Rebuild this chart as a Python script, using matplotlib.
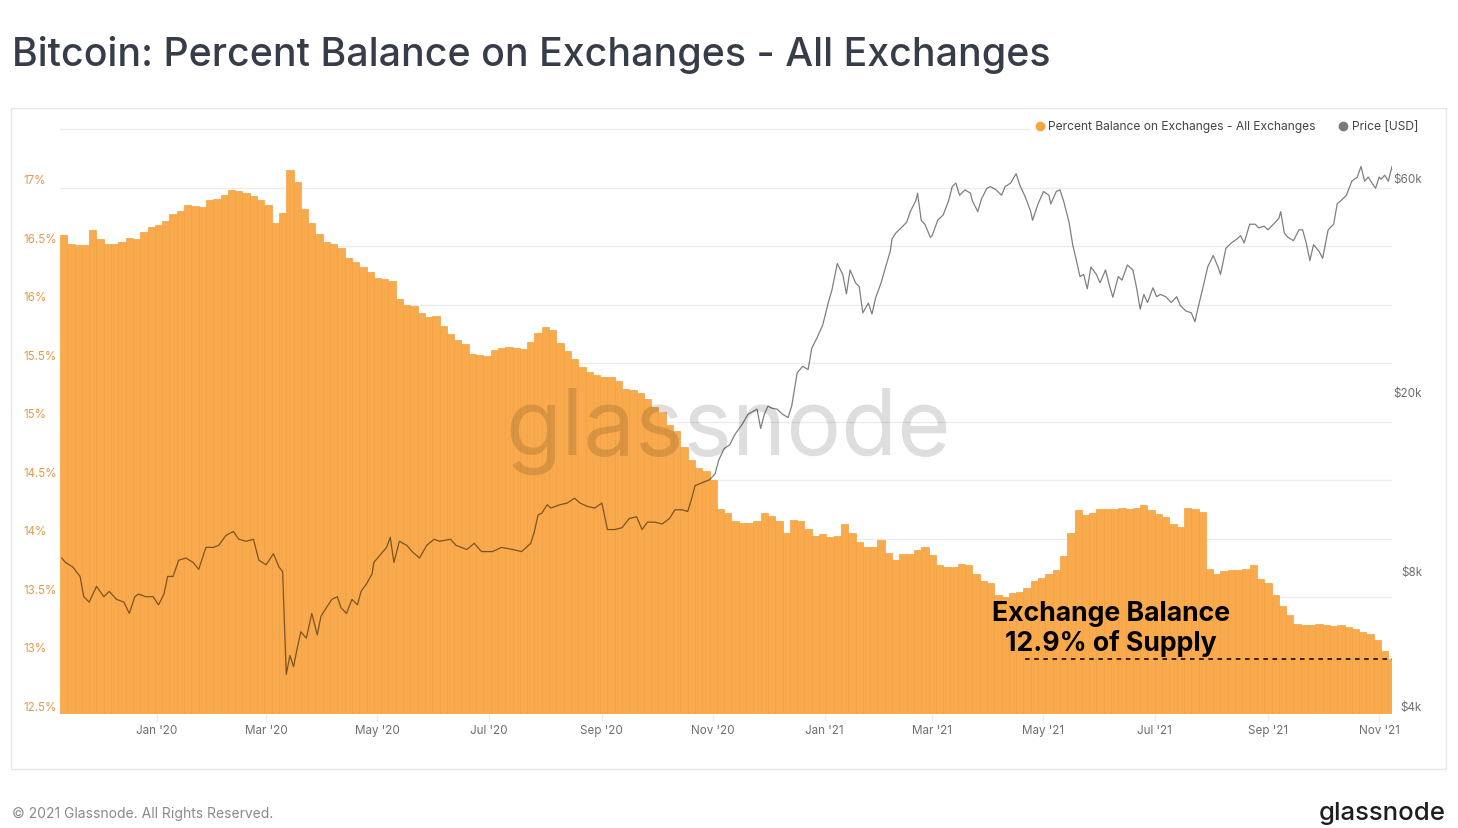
import matplotlib
matplotlib.use("Agg")
import matplotlib.pyplot as plt
import matplotlib.dates as mdates
import matplotlib.transforms as mtransforms
from matplotlib.patches import Rectangle
from matplotlib.lines import Line2D
import numpy as np
import pandas as pd

# ---------------- data ----------------
start_date = "2019-11-09"
bar_step_days = 4
balance_pct = [
    16.59, 16.52, 16.51, 16.51, 16.64, 16.56, 16.52, 16.52, 16.53, 16.57,
    16.56, 16.62, 16.66, 16.68, 16.71, 16.77, 16.80, 16.85, 16.84, 16.83,
    16.89, 16.90, 16.94, 16.98, 16.97, 16.95, 16.93, 16.89, 16.85, 16.70,
    16.78, 17.15, 17.05, 16.82, 16.70, 16.60, 16.53, 16.52, 16.48, 16.40,
    16.36, 16.32, 16.28, 16.23, 16.22, 16.20, 16.05, 16.00, 15.99, 15.93,
    15.89, 15.90, 15.82, 15.75, 15.70, 15.66, 15.58, 15.57, 15.56, 15.61,
    15.63, 15.64, 15.63, 15.62, 15.68, 15.76, 15.81, 15.78, 15.67, 15.60,
    15.53, 15.47, 15.42, 15.40, 15.38, 15.38, 15.35, 15.28, 15.27, 15.24,
    15.19, 15.12, 15.08, 14.97, 14.92, 14.78, 14.67, 14.60, 14.58, 14.50,
    14.25, 14.22, 14.15, 14.13, 14.13, 14.15, 14.22, 14.19, 14.15, 14.05,
    14.16, 14.15, 14.08, 14.02, 14.04, 14.01, 14.02, 14.12, 14.05, 13.97,
    13.93, 13.93, 13.99, 13.88, 13.82, 13.87, 13.87, 13.90, 13.93, 13.86,
    13.77, 13.76, 13.76, 13.78, 13.77, 13.70, 13.64, 13.62, 13.52, 13.50,
    13.53, 13.54, 13.58, 13.64, 13.66, 13.70, 13.73, 13.85, 14.05, 14.24,
    14.20, 14.22, 14.25, 14.25, 14.25, 14.26, 14.25, 14.26, 14.29, 14.24,
    14.21, 14.18, 14.12, 14.10, 14.26, 14.25, 14.23, 13.74, 13.70, 13.72,
    13.73, 13.73, 13.74, 13.77, 13.65, 13.62, 13.52, 13.42, 13.35, 13.27,
    13.26, 13.26, 13.27, 13.26, 13.25, 13.26, 13.24, 13.23, 13.20, 13.18,
    13.13, 13.04, 12.97,
]

price_day = [
    1, 3, 7, 11, 13, 16, 20, 24, 27, 31, 35, 38, 41, 43, 47, 51, 54, 57, 59, 62,
    65, 69, 73, 76, 80, 84, 87, 91, 95, 98, 102, 106, 109, 113, 117, 120, 122, 124, 126, 128,
    130, 132, 135, 138, 141, 143, 146, 149, 152, 154, 157, 160, 163, 165, 168, 171, 172, 175, 179, 181,
    183, 186, 190, 193, 197, 201, 205, 208, 214, 217, 223, 227, 231, 237, 242, 248, 253, 258, 260, 262,
    264, 267, 269, 274, 278, 282, 285, 289, 293, 297, 300, 304, 308, 312, 316, 319, 322, 326, 330, 334,
    337, 341, 344, 346, 348, 352, 356, 359, 361, 364, 367, 370, 374, 377, 380, 382, 384, 386, 388, 390,
    393, 396, 399, 401, 404, 407, 410, 412, 415, 418, 421, 423, 426, 429, 431, 433, 436, 438, 440, 443,
    445, 447, 450, 452, 455, 456, 458, 461, 464, 466, 469, 470, 472, 474, 477, 478, 481, 484, 487, 489,
    491, 493, 496, 499, 500, 503, 505, 508, 510, 513, 516, 518, 521, 524, 526, 529, 532, 533, 536, 539,
    542, 543, 546, 548, 550, 553, 555, 557, 559, 561, 563, 565, 568, 570, 573, 575, 577, 580, 582, 585,
    588, 590, 592, 594, 596, 599, 601, 603, 606, 609, 612, 614, 617, 620, 622, 624, 626, 629, 632, 635,
    636, 639, 642, 645, 647, 649, 652, 655, 657, 660, 662, 665, 668, 669, 671, 673, 676, 679, 681, 683,
    685, 687, 690, 692, 695, 698, 700, 702, 705, 708, 711, 713, 715, 717, 719, 721, 723, 724, 726, 728,
    730,
]
price_k = [
    8.9, 8.7, 8.5, 8.1, 7.3, 7.1, 7.7, 7.3, 7.5, 7.2, 7.1, 6.7, 7.3, 7.4, 7.3, 7.3, 7.0, 7.4, 8.1, 8.1,
    8.8, 8.9, 8.7, 8.4, 9.4, 9.4, 9.5, 10.0, 10.2, 9.8, 9.7, 9.8, 8.8, 8.6, 9.1, 8.5, 8.3, 4.9, 5.4, 5.1,
    5.6, 6.1, 5.9, 6.7, 6.0, 6.6, 6.9, 7.2, 7.3, 6.9, 6.7, 7.2, 7.0, 7.5, 7.8, 8.2, 8.7, 9.0, 9.4, 9.9,
    8.7, 9.7, 9.5, 9.2, 8.9, 9.5, 9.8, 9.7, 9.8, 9.5, 9.3, 9.6, 9.2, 9.2, 9.4, 9.3, 9.2, 9.6, 10.2, 11.1,
    11.2, 11.7, 11.5, 11.7, 11.8, 12.1, 11.8, 11.6, 11.5, 11.8, 10.3, 10.3, 10.4, 10.9, 11.0, 10.3, 10.7, 10.7, 10.6, 10.9,
    11.4, 11.4, 11.3, 12.0, 12.9, 13.1, 13.3, 13.7, 14.7, 15.6, 15.9, 16.8, 17.7, 18.6, 18.9, 19.1, 17.3, 18.6, 19.4, 19.2,
    19.1, 18.6, 18.3, 19.4, 23.0, 23.8, 23.4, 26.1, 27.6, 29.4, 32.9, 35.1, 40.3, 38.1, 34.5, 39.0, 36.5, 35.8, 31.3, 32.9,
    31.1, 33.8, 36.5, 39.0, 42.9, 45.7, 47.1, 48.4, 49.8, 52.6, 55.6, 57.8, 50.3, 49.3, 46.1, 46.5, 50.3, 51.7, 55.6, 59.8,
    60.9, 57.2, 58.8, 57.8, 55.6, 52.6, 56.1, 59.3, 59.8, 58.8, 57.2, 59.8, 60.9, 63.9, 60.3, 56.7, 52.6, 50.3, 54.7, 58.3,
    57.2, 54.7, 58.3, 58.8, 55.6, 49.8, 44.4, 41.0, 37.7, 38.1, 35.4, 39.6, 38.1, 36.5, 39.0, 36.2, 33.9, 37.7, 37.0, 40.0,
    39.0, 35.6, 31.9, 34.4, 33.0, 35.6, 34.0, 34.4, 34.0, 33.0, 34.0, 32.5, 31.6, 31.3, 29.9, 32.5, 35.1, 39.6, 42.0, 39.3,
    38.1, 43.6, 44.8, 45.7, 46.5, 44.8, 49.3, 49.3, 48.4, 48.8, 47.9, 49.3, 50.8, 52.6, 47.1, 46.1, 45.3, 47.9, 47.9, 44.8,
    40.9, 44.4, 42.9, 41.4, 47.9, 49.3, 54.8, 55.6, 57.2, 61.5, 62.8, 66.3, 61.5, 62.8, 60.9, 59.3, 62.8, 62.1, 63.4, 61.5,
    66.3,
]

pct_ticks = [12.5, 13, 13.5, 14, 14.5, 15, 15.5, 16, 16.5, 17]
pct_labels = ["12.5%", "13%", "13.5%", "14%", "14.5%", "15%", "15.5%", "16%", "16.5%", "17%"]
price_ticks = [4000, 8000, 20000, 60000]
price_labels = ["$4k", "$8k", "$20k", "$60k"]
month_ticks = ["2020-01-01", "2020-03-01", "2020-05-01", "2020-07-01", "2020-09-01", "2020-11-01",
               "2021-01-01", "2021-03-01", "2021-05-01", "2021-07-01", "2021-09-01", "2021-11-01"]
month_labels = ["Jan '20", "Mar '20", "May '20", "Jul '20", "Sep '20", "Nov '20",
                "Jan '21", "Mar '21", "May '21", "Jul '21", "Sep '21", "Nov '21"]
span_days = 730
annot_day = 576
annot_text = "Exchange Balance\n12.9% of Supply"
dash_start_day = 529

# ---------------- figure ----------------
plt.rcParams['font.family'] = ['Inter', 'DejaVu Sans']
W, H = 1458, 829
fig = plt.figure(figsize=(W / 100, H / 100), dpi=100)
fig.patch.set_facecolor('white')

def fx(px):
    return px / W

def fy(py):
    return 1 - py / H

ax_l, ax_r, ax_t, ax_b = 60, 1392, 128, 715
ax = fig.add_axes([fx(ax_l), fy(ax_b), fx(ax_r - ax_l), (ax_b - ax_t) / H])

t0 = pd.Timestamp(start_date)
bar_dates = [t0 + pd.Timedelta(days=bar_step_days * i) for i in range(len(balance_pct))]
bar_x = mdates.date2num(bar_dates)
base = 12.5
ax.bar(bar_x, np.array(balance_pct) - base, bottom=base, width=bar_step_days, align='edge',
       color='#F8AA4C', edgecolor='#F5A040', linewidth=0.5, zorder=2)

x0 = mdates.date2num(t0)
x1 = mdates.date2num(t0 + pd.Timedelta(days=span_days))
ax.set_xlim(x0, x1)
ax.set_ylim(12.5, 12.5 + (ax_b - ax_t) / 117.0)

# grid
ax.set_yticks(pct_ticks + [17.5])
ax.set_yticklabels([])
ax.tick_params(axis='y', length=0)
ax.grid(axis='y', color='#ececec', linewidth=1.0)
ax.set_axisbelow(True)
for s in ax.spines.values():
    s.set_visible(False)

# x ticks
ax.set_xticks(mdates.date2num(pd.to_datetime(month_ticks)))
ax.set_xticklabels(month_labels)
ax.tick_params(axis='x', length=5, color='#ececec', width=1, pad=2.5, labelsize=8.4,
               labelcolor='#6e6e6e')

# left labels (above grid lines)
ltrans = mtransforms.offset_copy(mtransforms.blended_transform_factory(ax.transAxes, ax.transData),
                                 fig=fig, x=0, y=7, units='dots')
for v, lab in zip(pct_ticks, pct_labels):
    ax.text((23 - ax_l) / (ax_r - ax_l), v, lab, transform=ltrans, ha='left', va='center',
            fontsize=8.4, color='#E49B4C')

# watermark
ax.text(0.5014, 12.5 + (715 - 455) / 117.0, "glassnode",
        transform=mtransforms.blended_transform_factory(ax.transAxes, ax.transData),
        ha='center', va='baseline', fontsize=66, color='black', alpha=0.13, zorder=5)

# annotation
price_dates = [t0 + pd.Timedelta(days=d) for d in price_day]
ann_x = mdates.date2num(t0 + pd.Timedelta(days=annot_day))
ax.text(ann_x, 12.5 + (715 - 629) / 117.0, annot_text, ha='center', va='center',
        multialignment='center', fontsize=19.2, fontweight='bold', color='black',
        linespacing=1.12, zorder=6)
ax.hlines(balance_pct[-1], mdates.date2num(t0 + pd.Timedelta(days=dash_start_day)), x1,
          colors='black', linestyles=(0, (3, 3)), linewidth=1.1, zorder=6)

# price axis
ax2 = ax.twinx()
ax2.set_yscale('log')
ax2.set_ylim(4000, 4000 * np.exp((ax_b - ax_t) / 195.0))
ax2.plot(mdates.date2num(price_dates), np.array(price_k) * 1000, color='black', alpha=0.5,
         linewidth=0.9, zorder=3)
ax2.set_xlim(x0, x1)
ax2.yaxis.set_major_locator(matplotlib.ticker.FixedLocator(price_ticks))
ax2.yaxis.set_minor_locator(matplotlib.ticker.NullLocator())
ax2.set_yticklabels([])
ax2.tick_params(axis='y', length=0)
for s in ax2.spines.values():
    s.set_visible(False)
rtrans = mtransforms.offset_copy(mtransforms.blended_transform_factory(ax2.transAxes, ax2.transData),
                                 fig=fig, x=0, y=7, units='dots')
for v, lab in zip(price_ticks, price_labels):
    ax2.text(1 + (1422 - ax_r) / (ax_r - ax_l), v, lab, transform=rtrans, ha='right', va='center',
             fontsize=8.4, color='#6e6e6e')

# card border
fig.add_artist(Rectangle((fx(11), fy(770)), fx(1446 - 11), (770 - 109) / H, fill=False,
                         edgecolor='#e6e6e6', linewidth=1.0, transform=fig.transFigure, zorder=0))

# legend (white background)
fig.add_artist(Rectangle((fx(1030), fy(136)), fx(1392 - 1030), 18 / H, facecolor='white',
                         edgecolor='none', transform=fig.transFigure, zorder=3))
fig.add_artist(Line2D([fx(1040)], [fy(127)], marker='o', markersize=6, color='#F7A544',
                      linestyle='none', transform=fig.transFigure, zorder=4))
fig.text(fx(1048), fy(127), "Percent Balance on Exchanges - All Exchanges", ha='left', va='center',
         fontsize=8.7, color='#454545', zorder=4)
fig.add_artist(Line2D([fx(1343)], [fy(127)], marker='o', markersize=6, color='#7a7a7a',
                      linestyle='none', transform=fig.transFigure, zorder=4))
fig.text(fx(1352), fy(127), "Price [USD]", ha='left', va='center',
         fontsize=8.7, color='#454545', zorder=4)

# title and footer
fig.text(fx(12), fy(66), "Bitcoin: Percent Balance on Exchanges - All Exchanges", ha='left',
         va='baseline', fontsize=28.3, fontweight='medium', color='#363c48')
fig.text(fx(12), fy(814), "\u00a9 2021 Glassnode. All Rights Reserved.", ha='left', va='center',
         fontsize=10, color='#8a8a8a')
fig.text(fx(1446), fy(814), "glassnode", ha='right', va='center', fontsize=18.5,
         color='#1e1e1e', fontweight='medium')

fig.savefig("out.png", dpi=100, facecolor='white')
